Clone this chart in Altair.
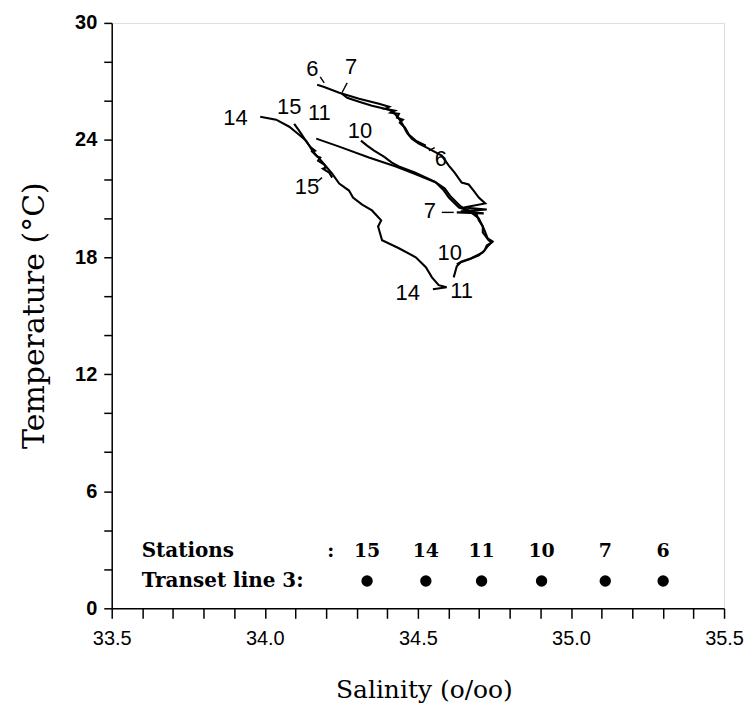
import altair as alt
import pandas as pd

# ---- T-S curves (salinity o/oo, temperature degC) ----
st6_S = [34.171, 34.194, 34.243, 34.308, 34.373, 34.406, 34.393, 34.425, 34.412, 34.438,
         34.432, 34.451, 34.441, 34.458, 34.471, 34.493, 34.526]
st6_T = [26.83, 26.72, 26.42, 26.11, 25.86, 25.70, 25.60, 25.50, 25.40, 25.34,
         25.14, 25.04, 24.88, 24.63, 24.27, 23.97, 23.71]

st7_S = [34.252, 34.269, 34.308, 34.350, 34.406, 34.425, 34.438, 34.451, 34.464, 34.480,
         34.503, 34.529, 34.578, 34.601, 34.620, 34.643, 34.666, 34.682, 34.699, 34.720,
         34.650, 34.725, 34.640, 34.715, 34.627]
st7_T = [26.37, 26.16, 25.96, 25.75, 25.55, 25.34, 25.09, 24.78, 24.37, 24.07,
         23.81, 23.61, 23.20, 22.69, 22.33, 21.82, 21.72, 21.41, 21.05, 20.75,
         20.54, 20.44, 20.34, 20.24, 20.29]

st10_S = [34.314, 34.334, 34.357, 34.389, 34.415, 34.438, 34.490, 34.555, 34.588, 34.607,
          34.640, 34.670, 34.699, 34.715, 34.728, 34.744, 34.728, 34.712, 34.673, 34.643, 34.627]
st10_T = [23.97, 23.71, 23.45, 23.15, 22.84, 22.64, 22.33, 21.87, 21.51, 21.10,
          20.59, 20.34, 19.98, 19.47, 18.96, 18.80, 18.55, 18.24, 17.93, 17.78, 17.63]

st11_S = [34.168, 34.243, 34.340, 34.428, 34.487, 34.559, 34.585, 34.601, 34.634, 34.666,
          34.692, 34.699, 34.712, 34.712, 34.731, 34.741, 34.725, 34.718, 34.699, 34.666,
          34.640, 34.627, 34.617]
st11_T = [24.07, 23.66, 23.10, 22.64, 22.28, 21.82, 21.41, 21.05, 20.54, 20.39,
          20.18, 19.88, 19.57, 19.26, 18.86, 18.75, 18.60, 18.34, 18.09, 17.88,
          17.73, 17.53, 16.96]

st14_S = [33.985, 34.037, 34.080, 34.112, 34.135, 34.155, 34.184, 34.220, 34.243, 34.275,
          34.288, 34.318, 34.350, 34.380, 34.370, 34.383, 34.438, 34.493, 34.526, 34.546,
          34.568, 34.594, 34.549]
st14_T = [25.19, 25.04, 24.68, 24.27, 23.97, 23.45, 22.94, 22.28, 21.77, 21.41,
          21.05, 20.69, 20.39, 19.88, 19.57, 18.86, 18.45, 17.99, 17.48, 16.96,
          16.56, 16.45, 16.35]

st15_S = [34.096, 34.112, 34.125, 34.138, 34.151, 34.164, 34.155, 34.171, 34.181, 34.174,
          34.194, 34.200, 34.190, 34.210, 34.220]
st15_T = [24.83, 24.48, 24.17, 23.86, 23.61, 23.45, 23.40, 23.15, 23.10, 22.94,
          22.74, 22.59, 22.53, 22.33, 22.07]

# short leader strokes from end labels to curves
lead_id = ["a", "a", "b", "b", "c", "c", "d", "d", "e", "e"]
lead_S = [34.181, 34.194, 34.269, 34.252, 34.168, 34.187, 34.536, 34.555, 34.578, 34.617]
lead_T = [27.24, 26.93, 26.93, 26.42, 21.82, 22.07, 23.45, 23.61, 20.29, 20.29]

# end labels of the curves
lab_text = ["6", "7", "14", "15", "11", "10", "6", "15", "7", "10", "11", "14"]
lab_S = [34.155, 34.282, 33.904, 34.080, 34.178, 34.311, 34.575, 34.138, 34.539, 34.604, 34.643, 34.467]
lab_T = [27.64, 27.75, 25.14, 25.70, 25.40, 24.48, 23.05, 21.61, 20.34, 18.19, 16.25, 16.15]

# station key at the bottom of the panel
key_stations = ["15", "14", "11", "10", "7", "6"]
key_S = [34.334, 34.526, 34.708, 34.904, 35.112, 35.301]
key_row_T = [2.96, 1.40]
key_text = ["Stations", "Transet line 3:"]
key_text_S = [33.598, 33.598]
key_colon_S = [34.215]

x_ticks = [round(33.5 + 0.1 * i, 1) for i in range(21)]
y_ticks = list(range(0, 31, 2))

# ---- build tables ----
rows = []
for name, S, T in [("6", st6_S, st6_T), ("7", st7_S, st7_T), ("10", st10_S, st10_T),
                   ("11", st11_S, st11_T), ("14", st14_S, st14_T), ("15", st15_S, st15_T)]:
    for i, (s, t) in enumerate(zip(S, T)):
        rows.append({"station": name, "i": i, "S": s, "T": t})
curves = pd.DataFrame(rows)
leads = pd.DataFrame({"id": lead_id, "S": lead_S, "T": lead_T, "i": list(range(len(lead_id)))})
labels = pd.DataFrame({"txt": lab_text, "S": lab_S, "T": lab_T})
key_nums = pd.DataFrame({"txt": key_stations, "S": key_S, "T": [key_row_T[0]] * len(key_S)})
key_dots = pd.DataFrame({"S": key_S, "T": [key_row_T[1]] * len(key_S)})
key_left = pd.DataFrame({"txt": key_text, "S": key_text_S, "T": key_row_T})
key_colon = pd.DataFrame({"txt": [":"], "S": key_colon_S, "T": [key_row_T[0]]})

xscale = alt.Scale(domain=[33.5, 35.5], nice=False, zero=False)
yscale = alt.Scale(domain=[0, 30], nice=False, zero=False)

xaxis = alt.Axis(values=x_ticks, tickCount=40, tickSize=10, tickWidth=1.5, tickColor="black",
                 domainColor="black", domainWidth=1.5, grid=False,
                 labelExpr="abs(datum.value*2 - round(datum.value*2)) < 0.001 ? format(datum.value, '.1f') : ''",
                 labelFont="Liberation Sans", labelFontSize=20, labelColor="black", labelPadding=10,
                 labelOverlap=False, labelBound=False,
                 title="Salinity (o/oo)", titleFont="DejaVu Serif", titleFontSize=25,
                 titleFontWeight="normal", titleColor="black", titleX=313, titleY=81,
                 titleBaseline="middle", labelFlush=False)
yaxis = alt.Axis(values=y_ticks, tickCount=40, tickSize=8, tickWidth=1.5, tickColor="black",
                 domainColor="black", domainWidth=1.5, grid=False,
                 labelExpr="datum.value % 6 == 0 ? format(datum.value, 'd') : ''",
                 labelFont="Liberation Sans", labelFontSize=20, labelFontWeight="bold",
                 labelColor="black", labelPadding=7, labelOverlap=False, labelBound=False,
                 title="Temperature (°C)", titleFont="DejaVu Serif", titleFontSize=30,
                 titleFontWeight="normal", titleColor="black", titleX=-77, titleY=293,
                 titleAngle=270, titleBaseline="middle", labelFlush=False)

base_x = alt.X("S:Q", scale=xscale, axis=xaxis)
base_y = alt.Y("T:Q", scale=yscale, axis=yaxis)

lines = alt.Chart(curves).mark_line(color="black", strokeWidth=2.1).encode(
    x=base_x, y=base_y, detail="station:N", order="i:Q")
lead_lines = alt.Chart(leads).mark_line(color="black", strokeWidth=1.4).encode(
    x="S:Q", y="T:Q", detail="id:N", order="i:Q")
curve_labels = alt.Chart(labels).mark_text(font="Liberation Sans", fontSize=22,
                                           color="black", baseline="middle", align="center").encode(
    x="S:Q", y="T:Q", text="txt:N")
nums = alt.Chart(key_nums).mark_text(font="DejaVu Serif", fontSize=19, fontWeight="bold",
                                     color="black", baseline="middle", align="center").encode(
    x="S:Q", y="T:Q", text="txt:N")
dots = alt.Chart(key_dots).mark_point(filled=True, shape="circle", size=130, color="black", opacity=1).encode(
    x="S:Q", y="T:Q")
left_txt = alt.Chart(key_left).mark_text(font="DejaVu Serif", fontSize=20, fontWeight="bold",
                                         color="black", baseline="middle", align="left").encode(
    x="S:Q", y="T:Q", text="txt:N")
colon = alt.Chart(key_colon).mark_text(font="DejaVu Serif", fontSize=19, fontWeight="bold",
                                       color="black", baseline="middle", align="center").encode(
    x="S:Q", y="T:Q", text="txt:N")

chart = alt.layer(lines, lead_lines, curve_labels, nums, dots, left_txt, colon).properties(
    width=614, height=587,
    autosize=alt.AutoSizeParams(type="none"),
    padding={"left": 104, "top": 14, "right": 20, "bottom": 96},
).configure_view(stroke="black", strokeWidth=1.5).configure(background="white")

chart.save("out.html", embed_options={"renderer": "svg", "actions": False})
